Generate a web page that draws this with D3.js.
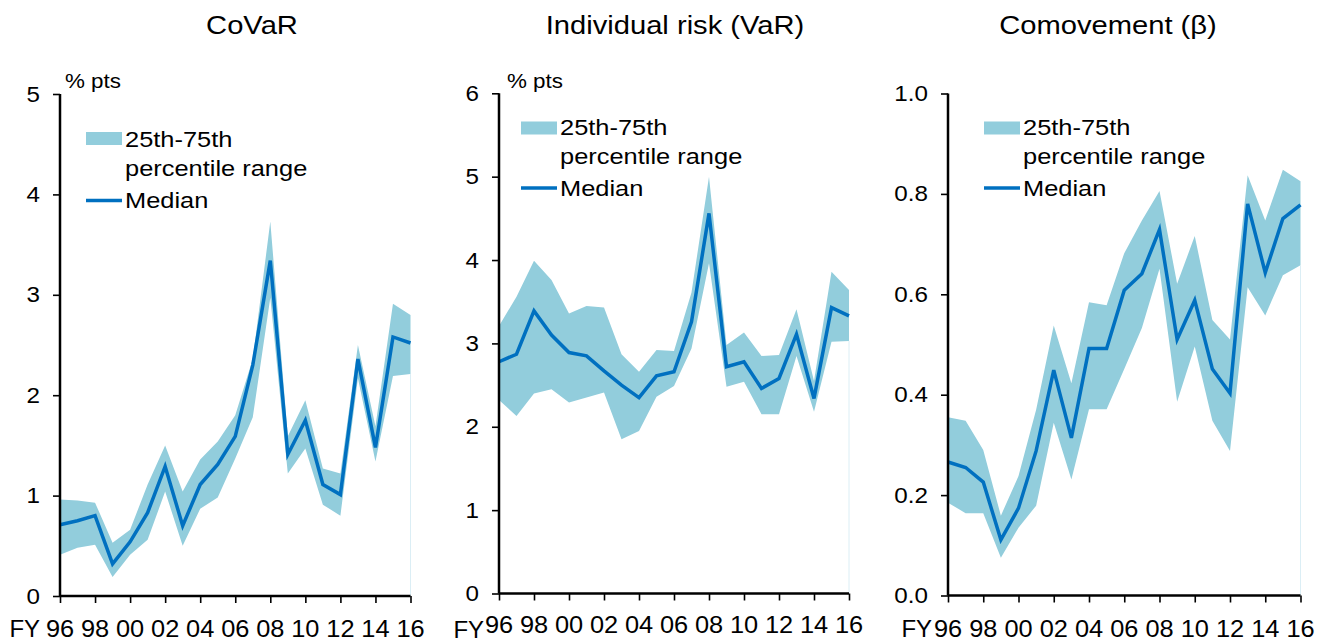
<!DOCTYPE html>
<html>
<head>
<meta charset="utf-8">
<script src="https://cdn.jsdelivr.net/npm/d3@7"></script>
<style>
  html, body { margin: 0; padding: 0; background: #fff; }
  svg { display: block; font-family: "Liberation Sans", Arial, sans-serif; }
</style>
</head>
<body>
<svg id="chart" width="1325" height="643"></svg>
<script>
// ---------- Data ----------
const years = [1996,1997,1998,1999,2000,2001,2002,2003,2004,2005,2006,2007,2008,2009,2010,2011,2012,2013,2014,2015,2016];
const tickYears = [1996,1998,2000,2002,2004,2006,2008,2010,2012,2014,2016];
const tickYearLabels = ["96","98","00","02","04","06","08","10","12","14","16"];

const covarMedian = [0.71,0.75,0.80,0.32,0.54,0.83,1.29,0.70,1.11,1.31,1.59,2.30,3.34,1.41,1.75,1.11,1.01,2.36,1.48,2.58,2.52];
const covarP75    = [0.96,0.95,0.93,0.53,0.66,1.11,1.50,1.04,1.36,1.54,1.80,2.36,3.73,1.59,1.95,1.27,1.22,2.50,1.69,2.91,2.80];
const covarP25    = [0.41,0.48,0.51,0.19,0.41,0.56,1.04,0.50,0.87,0.98,1.37,1.78,2.97,1.22,1.47,0.91,0.80,2.17,1.34,2.19,2.21];

const varMedian = [2.78,2.87,3.39,3.10,2.89,2.85,2.67,2.50,2.35,2.61,2.66,3.26,4.56,2.72,2.78,2.46,2.58,3.11,2.34,3.43,3.33];
const varP75    = [3.21,3.56,3.99,3.76,3.36,3.45,3.43,2.87,2.66,2.92,2.91,3.61,5.00,2.98,3.13,2.85,2.86,3.41,2.55,3.86,3.64];
const varP25    = [2.32,2.13,2.40,2.45,2.29,2.35,2.41,1.85,1.95,2.36,2.49,2.94,3.96,2.48,2.54,2.15,2.15,2.85,2.18,3.02,3.03];

const betaMedian = [0.266,0.255,0.226,0.111,0.174,0.288,0.449,0.314,0.492,0.492,0.608,0.641,0.729,0.510,0.588,0.451,0.403,0.780,0.643,0.751,0.778];
const betaP75    = [0.355,0.348,0.290,0.159,0.238,0.370,0.538,0.423,0.584,0.578,0.682,0.747,0.806,0.621,0.716,0.549,0.510,0.837,0.747,0.848,0.825];
const betaP25    = [0.185,0.164,0.164,0.075,0.135,0.179,0.344,0.231,0.371,0.371,0.451,0.533,0.651,0.386,0.496,0.348,0.288,0.614,0.558,0.638,0.658];

const titles = ["CoVaR", "Individual risk (VaR)", "Comovement (\u03b2)"];
const unitLabels = ["% pts", "% pts", ""];
const yTicks1 = [0,1,2,3,4,5];
const yTicks2 = [0,1,2,3,4,5,6];
const yTicks3 = [0,0.2,0.4,0.6,0.8,1.0];
const legendLabels = ["25th-75th", "percentile range", "Median"];
const axisPrefix = "FY";

// ---------- Style ----------
const BAND = "#92cddc";
const LINE = "#0070c0";

const svg = d3.select("#chart");

function txt(sel, x, y, s, size, anchor, sx) {
  return sel.append("text")
    .attr("transform", `translate(${x},${y}) scale(${sx},1)`)
    .attr("text-anchor", anchor || "start")
    .attr("font-size", size)
    .attr("font-family", "'Liberation Sans', Arial, sans-serif")
    .attr("fill", "#000")
    .text(s);
}

const panels = [
  { title: titles[0], unit: unitLabels[0], med: covarMedian, lo: covarP25, hi: covarP75, ticks: yTicks1, fmt: d3.format("d"),
    x0: 60, x1: 410.5, yb: 596, yt: 94, ymax: 5, titleX: 252, unitX: 65, fyEnd: 40, xlabY: 637, fyY: 637,
    leg: { sx: 86, sw: 36, rectY: 132, row1: 147, row2: 176, row3: 208, lineY: 200.5 } },
  { title: titles[1], unit: unitLabels[1], med: varMedian, lo: varP25, hi: varP75, ticks: yTicks2, fmt: d3.format("d"),
    x0: 499, x1: 849, yb: 593.5, yt: 93.3, ymax: 6, titleX: 675, unitX: 507, fyEnd: 484, xlabY: 633, fyY: 638,
    leg: { sx: 521, sw: 36, rectY: 121.5, row1: 135, row2: 164, row3: 196, lineY: 188 } },
  { title: titles[2], unit: unitLabels[2], med: betaMedian, lo: betaP25, hi: betaP75, ticks: yTicks3, fmt: d3.format(".1f"),
    x0: 948, x1: 1300.5, yb: 595.5, yt: 93.5, ymax: 1.0, titleX: 1108, unitX: 955, fyEnd: 932, xlabY: 637, fyY: 637,
    leg: { sx: 984, sw: 36, rectY: 121.5, row1: 135, row2: 164, row3: 196, lineY: 188 } }
];

panels.forEach(p => {
  const g = svg.append("g");
  const x = d3.scaleLinear().domain([1996, 2016]).range([p.x0, p.x1]);
  const y = d3.scaleLinear().domain([0, p.ymax]).range([p.yb, p.yt]);

  // title
  txt(g, p.titleX, 34, p.title, 26.5, "middle", 1.1);
  if (p.unit) txt(g, p.unitX, 88, p.unit, 20, "start", 1.12);

  // band
  const area = d3.area()
    .x((d, i) => x(years[i]))
    .y0((d, i) => y(p.lo[i]))
    .y1((d, i) => y(p.hi[i]));
  g.append("path").datum(p.med).attr("d", area).attr("fill", BAND);

  // faint right edge line
  g.append("line")
    .attr("x1", x(2016)).attr("x2", x(2016))
    .attr("y1", y(p.lo[p.lo.length - 1])).attr("y2", y(0))
    .attr("stroke", "#dbeef5").attr("stroke-width", 1);

  // median line
  const line = d3.line().x((d, i) => x(years[i])).y(d => y(d));
  g.append("path").datum(p.med).attr("d", line)
    .attr("fill", "none").attr("stroke", LINE).attr("stroke-width", 3.5)
    .attr("stroke-linejoin", "miter");

  // y axis
  const yAxis = d3.axisLeft(y).tickValues(p.ticks).tickSize(7).tickPadding(14).tickFormat(p.fmt);
  const ya = g.append("g").attr("transform", `translate(${p.x0},0)`).call(yAxis);
  ya.select(".domain").attr("stroke", "#000").attr("stroke-width", 2.5).attr("d", `M0,${p.yt}V${p.yb}`);
  ya.selectAll(".tick line").attr("stroke", "#000").attr("stroke-width", 1.6);
  ya.selectAll(".tick text").each(function(d) {
    const t = d3.select(this);
    const s = t.text();
    t.remove();
    txt(ya, -20, y(d) + 7.5, s, 22, "end", 1.1);
  });

  // x axis
  const xAxis = d3.axisBottom(x).tickValues(tickYears).tickSize(7).tickFormat((d, i) => tickYearLabels[i]);
  const xa = g.append("g").attr("transform", `translate(0,${p.yb})`).call(xAxis);
  xa.select(".domain").attr("stroke", "#000").attr("stroke-width", 2.5).attr("d", `M${p.x0},0H${p.x1}`);
  xa.selectAll(".tick line").attr("stroke", "#000").attr("stroke-width", 1.6);
  xa.selectAll(".tick text").each(function(d, i) {
    const t = d3.select(this);
    const s = t.text();
    t.remove();
    txt(xa, x(d), p.xlabY - p.yb, s, 23.5, "middle", 1.08);
  });
  txt(g, p.fyEnd, p.fyY, axisPrefix, 23.5, "end", 1.02);

  // legend
  const L = p.leg;
  g.append("rect").attr("x", L.sx).attr("y", L.rectY).attr("width", L.sw).attr("height", 13).attr("fill", BAND);
  g.append("line").attr("x1", L.sx).attr("x2", L.sx + L.sw).attr("y1", L.lineY).attr("y2", L.lineY)
    .attr("stroke", LINE).attr("stroke-width", 3.5);
  txt(g, L.sx + L.sw + 3, L.row1, legendLabels[0], 22.5, "start", 1.13);
  txt(g, L.sx + L.sw + 3, L.row2, legendLabels[1], 22.5, "start", 1.13);
  txt(g, L.sx + L.sw + 3, L.row3, legendLabels[2], 22.5, "start", 1.13);
});
</script>
</body>
</html>
